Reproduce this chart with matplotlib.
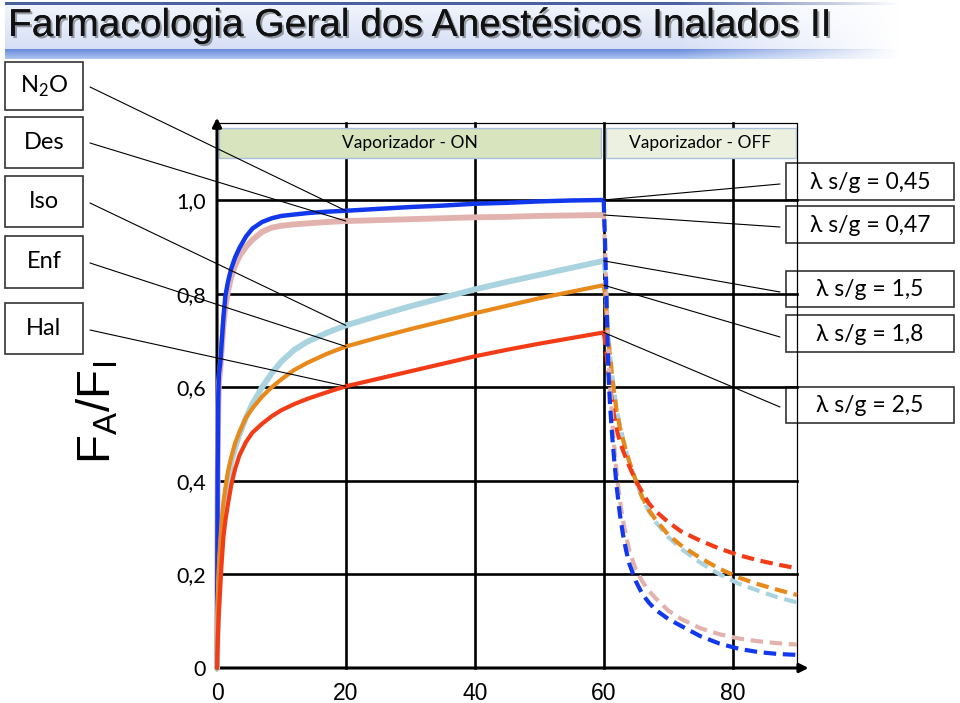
import numpy as np
import matplotlib
matplotlib.use('Agg')
import matplotlib.pyplot as plt
from matplotlib.patches import Rectangle, ConnectionPatch
import matplotlib.patheffects as pe

W, H = 960, 703

# fase com o vaporizador ligado (min)
t_on = [0, 0.1, 0.2, 0.3, 0.5, 0.7, 1.0, 1.3, 1.7, 2.2, 2.8, 3.5, 4.5, 5.5, 7, 8.5, 10,
        12, 14, 17, 20, 25, 30, 35, 40, 45, 50, 55, 60]
n2o_on = [0, 0.42, 0.58, 0.63, 0.65, 0.69, 0.75, 0.795, 0.825, 0.853, 0.877, 0.898, 0.922, 0.939,
          0.953, 0.961, 0.966, 0.969, 0.972, 0.975, 0.977, 0.981, 0.985, 0.988, 0.992, 0.994, 0.997, 0.999, 1.0]
des_on = [0, 0.40, 0.55, 0.61, 0.635, 0.675, 0.73, 0.77, 0.805, 0.835, 0.86, 0.88, 0.90, 0.915,
          0.932, 0.941, 0.945, 0.948, 0.950, 0.953, 0.955, 0.957, 0.959, 0.961, 0.963, 0.964, 0.966, 0.967, 0.968]
iso_on = [0, 0.08, 0.13, 0.17, 0.23, 0.27, 0.32, 0.36, 0.40, 0.44, 0.47, 0.50, 0.535, 0.565,
          0.60, 0.63, 0.655, 0.68, 0.697, 0.716, 0.732, 0.753, 0.773, 0.791, 0.809, 0.825, 0.84, 0.855, 0.87]
enf_on = [0, 0.10, 0.17, 0.22, 0.27, 0.31, 0.355, 0.385, 0.42, 0.45, 0.48, 0.505, 0.535, 0.555,
          0.58, 0.60, 0.617, 0.637, 0.652, 0.671, 0.687, 0.706, 0.724, 0.741, 0.758, 0.774, 0.79, 0.804, 0.818]
hal_on = [0, 0.05, 0.09, 0.12, 0.17, 0.22, 0.28, 0.315, 0.35, 0.39, 0.425, 0.455, 0.483, 0.503,
          0.522, 0.538, 0.551, 0.564, 0.575, 0.589, 0.602, 0.618, 0.634, 0.65, 0.666, 0.68, 0.693, 0.705, 0.717]

# fase com o vaporizador desligado (min)
t_off = [60, 60.2, 60.4, 60.6, 60.8, 61, 61.3, 61.6, 62, 62.5, 63, 63.5, 64, 65, 66, 67, 68,
         70, 72, 75, 78, 81, 84, 87, 90]
n2o_off = [1.0, 0.92, 0.81, 0.70, 0.61, 0.56, 0.50, 0.45, 0.39, 0.33, 0.285, 0.25, 0.222, 0.185, 0.158,
           0.14, 0.125, 0.105, 0.09, 0.068, 0.052, 0.041, 0.034, 0.03, 0.028]
des_off = [0.968, 0.90, 0.82, 0.73, 0.65, 0.60, 0.535, 0.48, 0.42, 0.36, 0.315, 0.28, 0.25, 0.21, 0.185,
           0.165, 0.15, 0.123, 0.105, 0.085, 0.072, 0.063, 0.057, 0.053, 0.05]
iso_off = [0.87, 0.84, 0.79, 0.74, 0.70, 0.67, 0.63, 0.595, 0.555, 0.52, 0.49, 0.463, 0.44, 0.40, 0.362,
           0.335, 0.313, 0.28, 0.255, 0.225, 0.20, 0.18, 0.165, 0.151, 0.14]
enf_off = [0.818, 0.80, 0.76, 0.72, 0.69, 0.665, 0.625, 0.59, 0.55, 0.515, 0.488, 0.463, 0.44, 0.40, 0.365,
           0.338, 0.318, 0.285, 0.262, 0.235, 0.212, 0.193, 0.179, 0.167, 0.156]
hal_off = [0.717, 0.70, 0.675, 0.65, 0.625, 0.60, 0.57, 0.54, 0.51, 0.485, 0.465, 0.447, 0.43, 0.40, 0.375,
           0.352, 0.336, 0.312, 0.292, 0.272, 0.255, 0.241, 0.23, 0.221, 0.213]

agentes = ['N$_\\mathregular{2}$O', 'Des', 'Iso', 'Enf', 'Hal']
lambdas = ['λ s/g = 0,45', 'λ s/g = 0,47', 'λ s/g = 1,5', 'λ s/g = 1,8', 'λ s/g = 2,5']
cores = ['#1238ee', '#e2b2ae', '#a9d3df', '#e8891c', '#f23c17']

y_ticks = [0, 0.2, 0.4, 0.6, 0.8, 1.0]
y_labels = ['0', '0,2', '0,4', '0,6', '0,8', '1,0']
x_ticks = [0, 20, 40, 60, 80]
x_labels = ['0', '20', '40', '60', '80']

fig = plt.figure(figsize=(W / 100, H / 100), dpi=100)

# fundo / faixa do titulo
deco = fig.add_axes([0, 0, 1, 1], zorder=-1)
deco.set_xlim(0, W)
deco.set_ylim(H, 0)
deco.axis('off')

xs = np.linspace(0, 1, 400)
fade = np.clip((900 - (5 + xs * 895)) / 220, 0, 1)
corpo = np.zeros((60, 400, 4))
vert = np.linspace(0, 1, 60)[:, None]
corpo[..., 0] = 0.94 - 0.12 * vert
corpo[..., 1] = 0.96 - 0.10 * vert
corpo[..., 2] = 0.99 - 0.03 * vert
corpo[..., 3] = fade[None, :] * 0.9
deco.imshow(corpo, extent=(5, 900, 50, 4), aspect='auto', interpolation='bilinear')

faixa = np.zeros((10, 400, 4))
v2 = np.linspace(0, 1, 10)[:, None]
faixa[..., 0] = 0.42 + 0.25 * v2
faixa[..., 1] = 0.55 + 0.22 * v2
faixa[..., 2] = 0.86 + 0.08 * v2
faixa[..., 3] = fade[None, :]
deco.imshow(faixa, extent=(5, 900, 59, 49), aspect='auto', interpolation='bilinear')

linha = np.zeros((1, 400, 4))
linha[..., 0] = 0.30
linha[..., 1] = 0.38
linha[..., 2] = 0.62
linha[..., 3] = fade[None, :]
deco.imshow(linha, extent=(5, 900, 5, 2), aspect='auto', interpolation='bilinear')

fig.text(8 / W, 1 - 36 / H, 'Farmacologia Geral dos Anestésicos Inalados II',
         fontsize=28, family=['Liberation Sans Narrow', 'Liberation Sans'],
         color='#111111', va='baseline',
         path_effects=[pe.withSimplePatchShadow(offset=(1.5, -1.5), alpha=0.35), pe.Normal()])

# caixas da esquerda
esq_top = [62, 117, 176, 236, 303]
esq_bot = [110, 168, 227, 288, 354]
for nome, y0, y1 in zip(agentes, esq_top, esq_bot):
    deco.add_patch(Rectangle((5, y0), 78, y1 - y0, fill=False, ec='#333333', lw=1.2))
    deco.text(44, (y0 + y1) / 2, nome, ha='center', va='center', fontsize=17, family='Lato')

# caixas da direita
dir_top = [163, 206, 271, 315, 387]
dir_bot = [200, 243, 307, 352, 423]
for nome, y0, y1 in zip(lambdas, dir_top, dir_bot):
    deco.add_patch(Rectangle((786, y0), 168, y1 - y0, fill=False, ec='#333333', lw=1.2))
    deco.text(870, (y0 + y1) / 2 + 1, nome, ha='center', va='center', fontsize=16.5,
              family=['Lato', 'DejaVu Sans'])

# grafico
ymax = 1.17
ax = fig.add_axes([217 / W, 35 / H, 580 / W, ymax * 468 / H])
ax.set_facecolor('none')
ax.set_xlim(0, 90)
ax.set_ylim(0, ymax)
for s in ax.spines.values():
    s.set_visible(False)

for y in y_ticks[1:]:
    ax.plot([0, 90], [y, y], color='black', lw=1.9, zorder=1, clip_on=False)
for x in x_ticks[1:]:
    ax.plot([x, x], [0, 1.164], color='black', lw=1.9, zorder=1, clip_on=False)
ax.plot([0, 90, 90], [1.164, 1.164, 0], color='black', lw=0.9, zorder=1, clip_on=False)

ax.add_patch(Rectangle((0.25, 1.09), 59.4, 0.064, fc='#d7e4bd', ec='#a9c0dc', lw=1, zorder=2))
ax.add_patch(Rectangle((60.3, 1.09), 29.6, 0.064, fc='#ebf1de', ec='#a9c0dc', lw=1, zorder=2))
ax.text(30, 1.122, 'Vaporizador - ON', ha='center', va='center', fontsize=12.5, family='Lato', zorder=3)
ax.text(75, 1.122, 'Vaporizador - OFF', ha='center', va='center', fontsize=12.5, family='Lato', zorder=3)

ax.annotate('', xy=(0, 1.176), xytext=(0, -0.004),
            arrowprops=dict(arrowstyle='-|>', lw=2.2, color='black', mutation_scale=13, shrinkA=0, shrinkB=0),
            annotation_clip=False, zorder=4)
ax.annotate('', xy=(91.8, 0), xytext=(-0.2, 0),
            arrowprops=dict(arrowstyle='-|>', lw=2.2, color='black', mutation_scale=13, shrinkA=0, shrinkB=0),
            annotation_clip=False, zorder=4)

on_series = [n2o_on, des_on, iso_on, enf_on, hal_on]
off_series = [n2o_off, des_off, iso_off, enf_off, hal_off]
larguras = [3.2, 4.2, 4.2, 3.0, 3.0]
ordem_on = [1, 0, 2, 3, 4]
ordem_off = [2, 3, 4, 1, 0]
for z, i in enumerate(ordem_on):
    ax.plot(t_on, on_series[i], color=cores[i], lw=larguras[i], zorder=5 + z,
            solid_capstyle='round', solid_joinstyle='round', clip_on=False)
for z, i in enumerate(ordem_off):
    ax.plot(t_off, off_series[i], color=cores[i], lw=3.0, ls=(0, (3, 1.6)), zorder=10 + z,
            clip_on=False)

ax.set_yticks(y_ticks)
ax.set_yticklabels(y_labels, family='Lato', fontsize=15.5)
ax.set_xticks(x_ticks)
ax.set_xticklabels(x_labels, family='Liberation Sans', fontsize=16.5)
ax.tick_params(axis='y', length=0, pad=8)
ax.tick_params(axis='x', length=0, pad=10)

fig.text(98 / W, 1 - 412 / H, r'$\mathregular{F_A/F_I}$', rotation=90, fontsize=34,
         family='Liberation Sans', ha='center', va='center')

# linhas de chamada
esq_y = [87, 143, 203, 263, 330]
for serie, yp in zip(on_series, esq_y):
    v = serie[t_on.index(20)]
    con = ConnectionPatch(xyA=(90, H - yp), coordsA='figure pixels', xyB=(20, v), coordsB='data',
                          axesB=ax, color='black', lw=0.8, zorder=30)
    fig.add_artist(con)

dir_y = [184, 227, 292, 337, 407]
for serie, yp in zip(on_series, dir_y):
    v = serie[-1]
    con = ConnectionPatch(xyA=(60, v), coordsA='data', axesA=ax, xyB=(780, H - yp),
                          coordsB='figure pixels', color='black', lw=0.8, zorder=30)
    fig.add_artist(con)

fig.savefig('out.png', dpi=100)
